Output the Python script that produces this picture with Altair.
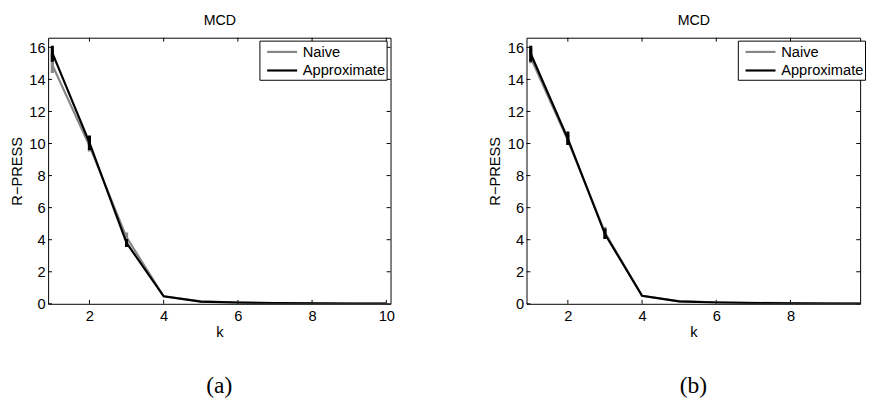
import altair as alt
import pandas as pd

# ---------------- data ----------------
k = [1, 2, 3, 4, 5, 6, 7, 8, 9, 10]
err_k = [1, 2, 3]

# panel (a)
naive_a = [14.9, 9.85, 4.15, 0.47, 0.15, 0.08, 0.05, 0.03, 0.02, 0.02]
naive_a_lo = [14.4, 9.5, 3.85]
naive_a_hi = [15.6, 10.2, 4.45]
approx_a = [15.65, 10.05, 3.8, 0.47, 0.14, 0.07, 0.04, 0.03, 0.02, 0.02]
approx_a_lo = [15.1, 9.6, 3.55]
approx_a_hi = [16.1, 10.5, 4.05]

# panel (b)
naive_b = [15.35, 10.2, 4.45, 0.5, 0.15, 0.09, 0.06, 0.04, 0.03, 0.02]
naive_b_lo = [15.0, 9.9, 4.1]
naive_b_hi = [15.9, 10.6, 4.8]
approx_b = [15.6, 10.3, 4.35, 0.5, 0.15, 0.08, 0.05, 0.03, 0.02, 0.02]
approx_b_lo = [15.1, 9.9, 4.05]
approx_b_hi = [16.1, 10.75, 4.7]

series = ["Naive", "Approximate"]
series_colors = ["#878787", "#000000"]
y_ticks = [0, 2, 4, 6, 8, 10, 12, 14, 16]
x_ticks_a = [2, 4, 6, 8, 10]
x_ticks_b = [2, 4, 6, 8]

FONT = "Liberation Sans"
H = 272
W_A = 350
X_MIN, X_MAX = 0.886, 10.114
PX_PER_K = W_A / (X_MAX - X_MIN)
W_B = 341


def panel(naive, nlo, nhi, approx, alo, ahi, caption, width, xmax, xticks):
    df = pd.DataFrame(
        {"k": k * 2, "v": naive + approx, "s": ["Naive"] * len(k) + ["Approximate"] * len(k)}
    )
    de = pd.DataFrame(
        {
            "k": err_k * 2,
            "lo": nlo + alo,
            "hi": nhi + ahi,
            "s": ["Naive"] * 3 + ["Approximate"] * 3,
        }
    )
    dy = pd.DataFrame({"t": y_ticks})
    dx = pd.DataFrame({"t": xticks})

    xs = alt.Scale(domain=[X_MIN, xmax], nice=False, zero=False)
    ys = alt.Scale(domain=[0, 16.6], nice=False, zero=False)
    y_axis = alt.Axis(values=y_ticks, title="R−PRESS", ticks=False, domain=False,
                      grid=False, labelPadding=3, titlePadding=5)
    color = alt.Color(
        "s:N",
        scale=alt.Scale(domain=series, range=series_colors),
        legend=alt.Legend(
            title=None, orient="none", legendX=216, legendY=3,
            strokeColor="black", fillColor="white", padding=1,
            symbolType="M-0.4,0H3.0", symbolSize=324, symbolStrokeWidth=2.2,
            labelFontSize=15, labelFont=FONT, labelOffset=22.3, rowPadding=0,
            cornerRadius=0, labelColor="black",
        ),
    )

    def line_layer(name, axis):
        return alt.Chart(df).transform_filter(alt.datum.s == name).mark_line(
            strokeWidth=2.2, clip=True
        ).encode(
            x=alt.X("k:Q", scale=xs, axis=axis),
            y=alt.Y("v:Q", scale=ys, axis=y_axis),
            color=color,
        )

    def err_layer(name):
        return alt.Chart(de).transform_filter(alt.datum.s == name).mark_rule(
            strokeWidth=3.2, clip=True
        ).encode(
            x=alt.X("k:Q", scale=xs, axis=None),
            y=alt.Y("lo:Q", scale=ys, axis=y_axis),
            y2="hi:Q",
            color=color,
        )

    bottom_axis = alt.Axis(values=xticks, title="k", ticks=False, domain=False, grid=False,
                           labelPadding=5, titlePadding=1)
    top_axis = alt.Axis(orient="top", title="MCD", labels=False, ticks=False, domain=False,
                        grid=False, titlePadding=10, titleFontSize=14.5)

    left_ticks = alt.Chart(dy).mark_rule(color="black").encode(
        y=alt.Y("t:Q", scale=ys, axis=y_axis), x=alt.value(0), x2=alt.value(4)
    )
    right_ticks = alt.Chart(dy).mark_rule(color="black").encode(
        y=alt.Y("t:Q", scale=ys, axis=y_axis), x=alt.value(width - 4), x2=alt.value(width)
    )
    bottom_ticks = alt.Chart(dx).mark_rule(color="black").encode(
        x=alt.X("t:Q", scale=xs, axis=None), y=alt.value(H - 4), y2=alt.value(H)
    )
    top_ticks = alt.Chart(dx).mark_rule(color="black").encode(
        x=alt.X("t:Q", scale=xs, axis=top_axis), y=alt.value(0), y2=alt.value(4)
    )

    return alt.layer(
        left_ticks, right_ticks, bottom_ticks, top_ticks,
        err_layer("Naive"), line_layer("Naive", bottom_axis),
        err_layer("Approximate"), line_layer("Approximate", None),
    ).resolve_axis(x="independent").properties(
        width=width,
        height=H,
        title=alt.TitleParams(
            caption, orient="bottom", font="Liberation Serif", fontSize=24,
            fontWeight="normal", offset=36, frame="group", anchor="middle", color="black",
        ),
    )


pa = panel(naive_a, naive_a_lo, naive_a_hi, approx_a, approx_a_lo, approx_a_hi,
           "(a)", W_A, X_MAX, x_ticks_a)
pb = panel(naive_b, naive_b_lo, naive_b_hi, approx_b, approx_b_lo, approx_b_hi,
           "(b)", W_B, X_MIN + W_B / PX_PER_K, x_ticks_b)

chart = alt.hconcat(pa, pb, spacing=139, bounds="flush").resolve_scale(
    color="independent"
).resolve_legend(color="independent").properties(
    padding={"left": 0, "top": 0, "right": 0, "bottom": 0},
    background="white",
).configure_view(stroke="black", strokeWidth=1).configure_axis(
    labelFont=FONT, titleFont=FONT, labelFontSize=15, titleFontSize=15,
    labelColor="black", titleColor="black", titleFontWeight="normal",
)

chart.save("out.html", embed_options={"renderer": "svg", "actions": False})
